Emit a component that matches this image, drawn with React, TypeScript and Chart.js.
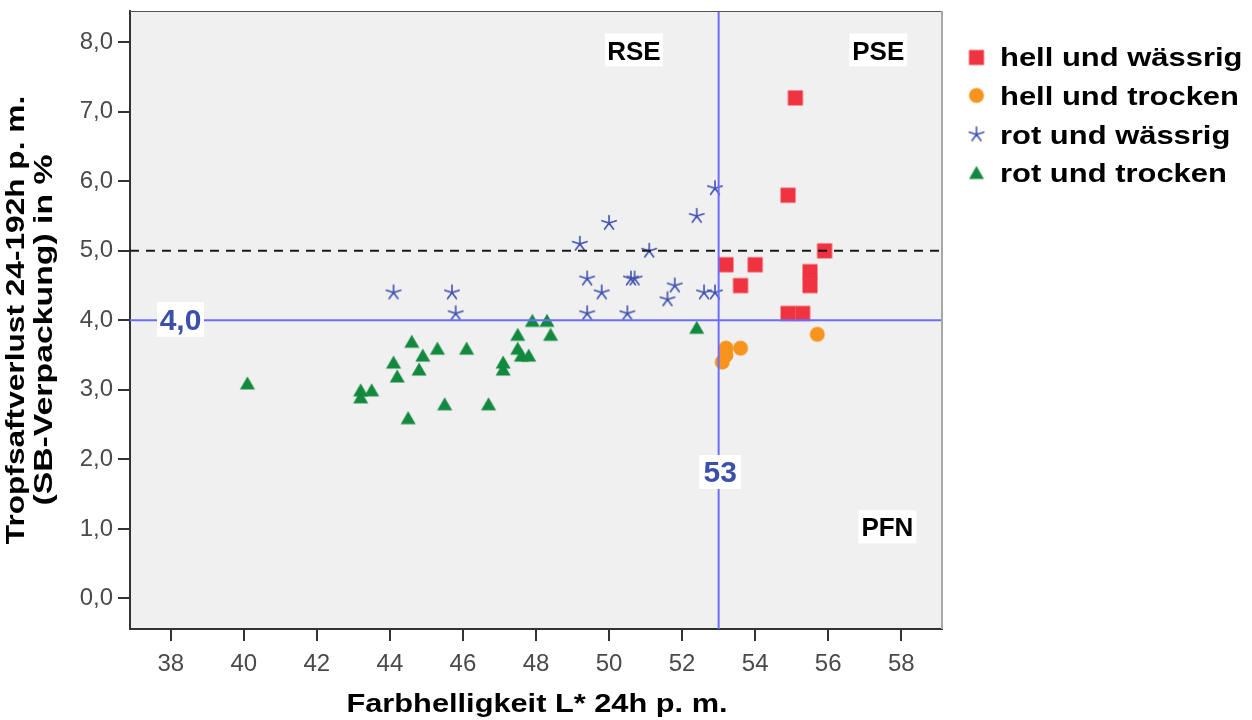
import React, { useEffect, useRef } from 'react';
import { Chart, registerables } from 'chart.js';

Chart.register(...registerables);

// ---- data ----
const xTicks = [38, 40, 42, 44, 46, 48, 50, 52, 54, 56, 58];
const yTicks = [0, 1, 2, 3, 4, 5, 6, 7, 8];

const seriesNames = ['hell und wässrig', 'hell und trocken', 'rot und wässrig', 'rot und trocken'];

const hellWaessrigX = [55.1, 54.9, 55.9, 53.2, 54.0, 53.6, 55.5, 55.5, 54.9, 55.3];
const hellWaessrigY = [7.2, 5.8, 5.0, 4.8, 4.8, 4.5, 4.7, 4.5, 4.1, 4.1];

const hellTrockenX = [55.7, 53.6, 53.2, 53.2, 53.1];
const hellTrockenY = [3.8, 3.6, 3.6, 3.5, 3.4];

const rotWaessrigX = [52.9, 52.4, 50.0, 49.2, 51.1, 49.4, 50.6, 50.7, 49.8, 51.8, 51.6, 52.6, 52.9, 45.7, 45.8, 49.4, 50.5, 44.1];
const rotWaessrigY = [5.9, 5.5, 5.4, 5.1, 5.0, 4.6, 4.6, 4.6, 4.4, 4.5, 4.3, 4.4, 4.4, 4.4, 4.1, 4.1, 4.1, 4.4];

const rotTrockenX = [40.1, 43.2, 43.2, 43.5, 44.1, 44.2, 44.5, 44.6, 44.8, 44.9, 45.3, 45.5, 46.1, 46.7, 47.1, 47.1, 47.5, 47.5, 47.6, 47.8, 47.9, 48.3, 48.4, 52.4];
const rotTrockenY = [3.1, 3.0, 2.9, 3.0, 3.4, 3.2, 2.6, 3.7, 3.3, 3.5, 3.6, 2.8, 3.6, 2.8, 3.4, 3.3, 3.8, 3.6, 3.5, 3.5, 4.0, 4.0, 3.8, 3.9];

const refLineX = 53;
const refLineY = 4.0;
const dashedLineY = 5.0;
const refLabelX = '53';
const refLabelY = '4,0';

const regionLabels = ['RSE', 'PSE', 'PFN'];
const regionX = [50.68, 57.37, 57.62];
const regionY = [7.89, 7.89, 1.03];

const xTitle = 'Farbhelligkeit L* 24h p. m.';
const yTitle1 = 'Tropfsaftverlust 24-192h p. m.';
const yTitle2 = '(SB-Verpackung) in %';

// ---- styles ----
const FONT = "'Liberation Sans', Arial, Helvetica, sans-serif";
const colors = ['#ef3340', '#f7941d', '#3f51ad', '#12893f'];
const kinds = ['square', 'circle', 'star', 'triangle'];
const refColor = 'rgb(108,108,255)';
const labelBlue = '#3c50a8';

function makeMarker(kind: string, color: string): HTMLCanvasElement {
  const c = document.createElement('canvas');
  c.width = 20;
  c.height = 20;
  const g = c.getContext('2d') as CanvasRenderingContext2D;
  g.fillStyle = color;
  g.strokeStyle = color;
  const cx = 10, cy = 10;
  if (kind === 'square') {
    g.fillRect(cx - 7.5, cy - 7.5, 15, 15);
  } else if (kind === 'circle') {
    g.beginPath();
    g.arc(cx, cy, 7.5, 0, Math.PI * 2);
    g.fill();
  } else if (kind === 'triangle') {
    g.beginPath();
    g.moveTo(cx, cy - 6.5);
    g.lineTo(cx + 7.5, cy + 6.5);
    g.lineTo(cx - 7.5, cy + 6.5);
    g.closePath();
    g.fill();
  } else {
    g.lineWidth = 1.6;
    g.lineCap = 'round';
    g.beginPath();
    for (let k = 0; k < 5; k++) {
      const a = -Math.PI / 2 + (k * 2 * Math.PI) / 5;
      g.moveTo(cx, cy);
      g.lineTo(cx + 7.5 * Math.cos(a), cy + 7.5 * Math.sin(a));
    }
    g.stroke();
  }
  return c;
}

function drawText(
  ctx: CanvasRenderingContext2D,
  s: string,
  x: number,
  y: number,
  size: number,
  o: { color?: string; stretch?: number; rotate?: boolean; align?: CanvasTextAlign; bold?: boolean } = {}
) {
  ctx.save();
  ctx.font = `${o.bold === false ? '' : 'bold '}${size}px ${FONT}`;
  ctx.fillStyle = o.color || '#000';
  ctx.textAlign = o.align || 'center';
  ctx.textBaseline = 'alphabetic';
  ctx.translate(x, y);
  if (o.rotate) ctx.rotate(-Math.PI / 2);
  ctx.scale(o.stretch || 1, 1);
  ctx.fillText(s, 0, 0);
  ctx.restore();
}

export default function App() {
  const ref = useRef<HTMLCanvasElement | null>(null);

  useEffect(() => {
    if (!ref.current) return;
    const markers = kinds.map((k, i) => makeMarker(k, colors[i]));
    const xs = [hellWaessrigX, hellTrockenX, rotWaessrigX, rotTrockenX];
    const ys = [hellWaessrigY, hellTrockenY, rotWaessrigY, rotTrockenY];

    const datasets = seriesNames.map((name, i) => ({
      label: name,
      data: xs[i].map((v, j) => ({ x: v, y: ys[i][j] })),
      pointStyle: markers[i],
      pointRadius: 8,
      backgroundColor: colors[i],
      borderColor: colors[i],
    }));

    const framePlugin = {
      id: 'frame',
      beforeDraw(chart: any) {
        const { ctx, chartArea: a } = chart;
        ctx.save();
        ctx.fillStyle = '#f0f0f0';
        ctx.fillRect(a.left, a.top, a.right - a.left, a.bottom - a.top);
        ctx.restore();
      },
      afterDatasetsDraw(chart: any) {
        const { ctx, chartArea: a, scales } = chart;
        const px = scales.x.getPixelForValue(refLineX);
        const py = scales.y.getPixelForValue(refLineY);
        const pd = scales.y.getPixelForValue(dashedLineY);
        ctx.save();
        ctx.strokeStyle = '#1a1a1a';
        ctx.lineWidth = 2;
        ctx.setLineDash([9, 7]);
        ctx.beginPath();
        ctx.moveTo(a.left, pd);
        ctx.lineTo(a.right, pd);
        ctx.stroke();
        ctx.setLineDash([]);
        ctx.strokeStyle = refColor;
        ctx.lineWidth = 2;
        ctx.beginPath();
        ctx.moveTo(a.left, py);
        ctx.lineTo(a.right, py);
        ctx.moveTo(px, a.top);
        ctx.lineTo(px, a.bottom);
        ctx.stroke();
        ctx.fillStyle = '#ffffff';
        const lx = a.left + 50.5;
        ctx.fillRect(lx - 23.5, py - 18.5, 47, 35);
        drawText(ctx, refLabelY, lx, py + 10, 30, { color: labelBlue });
        const ly = a.bottom - 158;
        ctx.fillStyle = '#ffffff';
        ctx.fillRect(px - 19.5, ly - 16, 42, 34);
        drawText(ctx, refLabelX, px + 1.5, ly + 11, 30, { color: labelBlue });
        regionLabels.forEach((t, i) => {
          const cx = scales.x.getPixelForValue(regionX[i]);
          const cy = scales.y.getPixelForValue(regionY[i]);
          ctx.fillStyle = '#ffffff';
          ctx.fillRect(cx - 29, cy - 16.5, 58, 33);
          drawText(ctx, t, cx, cy + 9.6, 26);
        });
        ctx.restore();
      },
      afterDraw(chart: any) {
        const { ctx, chartArea: a } = chart;
        ctx.save();
        ctx.strokeStyle = '#555';
        ctx.lineWidth = 1;
        ctx.beginPath();
        ctx.moveTo(a.left, a.top + 0.5);
        ctx.lineTo(a.right, a.top + 0.5);
        ctx.stroke();
        ctx.strokeStyle = '#a8a8a8';
        ctx.lineWidth = 2;
        ctx.beginPath();
        ctx.moveTo(a.right, a.top);
        ctx.lineTo(a.right, a.bottom);
        ctx.stroke();
        ctx.restore();

        const cx = (a.left + a.right) / 2 + 1;
        drawText(ctx, xTitle, cx, 711.5, 25, { stretch: 1.23 });
        const cy = (a.top + a.bottom) / 2;
        drawText(ctx, yTitle1, 24, cy, 26, { rotate: true, stretch: 1.217 });
        drawText(ctx, yTitle2, 52, cy + 10, 26, { rotate: true, stretch: 1.3 });

        const mY = [57.5, 95.5, 134.5, 172.5];
        const tY = [66, 105, 143.5, 182];
        seriesNames.forEach((n, i) => {
          ctx.drawImage(markers[i], 976.5 - 10, mY[i] - 10);
          drawText(ctx, n, 1000, tY[i], 26, { stretch: 1.19, align: 'left' });
        });
      },
    };

    const tickFont = { family: FONT, size: 24 };
    const chart = new Chart(ref.current, {
      type: 'scatter',
      data: { datasets },
      options: {
        animation: false,
        responsive: false,
        layout: { padding: { left: 0, top: 11, right: 310, bottom: 0 } },
        plugins: { legend: { display: false }, tooltip: { enabled: false } },
        scales: {
          x: {
            type: 'linear',
            min: 36.885,
            max: 59.115,
            afterBuildTicks: (s: any) => {
              s.ticks = xTicks.map((v) => ({ value: v }));
            },
            afterFit: (s: any) => {
              s.height = 91;
              s.paddingLeft = 0;
              s.paddingRight = 0;
            },
            grid: { drawOnChartArea: false, drawTicks: true, tickLength: 12, color: '#333', lineWidth: 2 },
            border: { display: true, color: '#333', width: 2 },
            ticks: {
              autoSkip: false,
              maxRotation: 0,
              padding: 9,
              color: '#4a4a4a',
              font: tickFont,
              callback: (v: any) => String(v),
            },
          },
          y: {
            type: 'linear',
            min: -0.44,
            max: 8.45,
            afterBuildTicks: (s: any) => {
              s.ticks = yTicks.map((v) => ({ value: v }));
            },
            afterFit: (s: any) => {
              s.width = 130;
              s.paddingTop = 0;
              s.paddingBottom = 0;
            },
            grid: { drawOnChartArea: false, drawTicks: true, tickLength: 12, color: '#333', lineWidth: 2 },
            border: { display: true, color: '#333', width: 2 },
            ticks: {
              autoSkip: false,
              padding: 5,
              color: '#4a4a4a',
              font: tickFont,
              callback: (v: any) => Number(v).toFixed(1).replace('.', ','),
            },
          },
        },
      } as any,
      plugins: [framePlugin],
    });
    return () => chart.destroy();
  }, []);

  return (
    <div style={{ position: 'fixed', left: 0, top: 0, width: 1252, height: 720, background: '#fff' }}>
      <canvas ref={ref} width={1252} height={720} style={{ display: 'block' }} />
    </div>
  );
}
